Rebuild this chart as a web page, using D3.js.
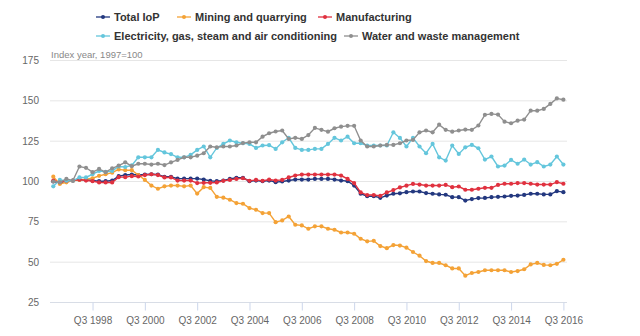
<!DOCTYPE html>
<html>
<head>
<meta charset="utf-8">
<script src="https://cdn.jsdelivr.net/npm/d3@7"></script>
<style>
  body { margin: 0; background: #fff; }
  svg { display: block; font-family: "Liberation Sans", Arial, sans-serif; }
</style>
</head>
<body>
<div id="chart"></div>
<script>
// quarters from Q1 1997 to Q3 2016
const quarters = d3.range(79).map(i => "Q" + (i % 4 + 1) + " " + (1997 + Math.floor(i / 4)))
const tickLabels = ["Q3 1998", "Q3 2000", "Q3 2002", "Q3 2004", "Q3 2006", "Q3 2008", "Q3 2010", "Q3 2012", "Q3 2014", "Q3 2016"]
const yTicks = [25, 50, 75, 100, 125, 150, 175]

const totalIoP = [100, 99.2, 100.2, 100.6, 101.1, 101.1, 100.6, 100.2, 100.2, 100.6,
  103.3, 104, 104.3, 104, 104.3, 104.5, 104.3, 102.9, 102.9, 101.8,
  101.8, 101.8, 101.8, 101.2, 100.4, 100.2, 100.6, 101.6, 102.3, 102.3,
  100.2, 100.6, 100.2, 100.6, 99.6, 100, 100.6, 101.2, 101.2, 101.2,
  101.6, 101.6, 101.6, 101.2, 100.6, 100.2, 97.5, 92.4, 90.9, 90.9,
  89.9, 91.3, 92.4, 92.7, 93.4, 93.8, 93.8, 92.8, 92.4, 92,
  91.8, 90.3, 90.3, 88.2, 89.1, 89.7, 89.8, 90.3, 90.5, 90.7,
  91.1, 91.3, 91.7, 92.4, 92.4, 92, 92, 94, 93.4]

const mining = [103, 98.5, 99.5, 100.5, 101, 101.5, 102, 103.5, 104.5, 105.5,
  107.5, 107, 107, 104, 101, 97.5, 95.5, 97, 97.5, 97.5,
  97, 97.5, 92.5, 96.5, 96, 90.5, 90, 88.7, 86.6, 86.2,
  83.5, 82.5, 80.4, 80.4, 74.8, 75.9, 78.3, 73.2, 72.8, 70.7,
  72.2, 72.2, 70.7, 70.1, 68.4, 68.4, 67.6, 64.5, 62.9, 63.2,
  60, 58.7, 60.6, 60.3, 59, 56.3, 54, 50.7, 49.5, 49.5,
  48.1, 46.1, 46.1, 41.6, 43.3, 43.9, 45, 45, 45, 45,
  43.9, 44.5, 45.6, 48.6, 49.5, 48.3, 48.1, 49, 51.5]

const manufacturing = [100.5, 99.6, 100.4, 100.6, 101.2, 100.6, 100.2, 99.4, 99.4, 99.4,
  102.7, 102.7, 103.3, 103.1, 104, 104.5, 104, 102.5, 102.5, 100.6,
  100.6, 100.6, 99, 99.2, 99.2, 99.4, 100.4, 101, 101.6, 102,
  100.4, 101, 100.4, 101.2, 100.6, 101, 102.5, 103.7, 104.3, 104.3,
  104.3, 104.3, 104.3, 104.3, 103.7, 101.6, 99, 93.2, 91.6, 91.6,
  91.1, 93.2, 94.7, 96.3, 97.4, 98.5, 98.1, 97.5, 97.5, 97.5,
  97.9, 96.5, 96.9, 94.9, 94.9, 95.5, 96.1, 96.1, 97.9, 98.6,
  98.6, 99, 99, 98.6, 98.1, 98.1, 98.1, 99.6, 98.6]

const electricity = [97, 101, 100.5, 100.5, 102.5, 102.5, 104.5, 106.5, 106, 106.5,
  109.3, 109, 110, 115, 115, 115, 119.6, 118, 117, 115,
  115, 116.5, 119.6, 121.7, 115, 120.8, 123.3, 125.4, 124.3, 123.7,
  123.3, 120.8, 122.3, 122.5, 120.2, 124.3, 127.1, 120.8, 119.6, 119.6,
  120.2, 120.2, 123.3, 127.1, 125.4, 127.8, 123.7, 123.7, 122.3, 122.3,
  122.3, 122.3, 130.5, 127, 121.7, 127, 121.7, 117.5, 123.3, 115,
  113, 122.3, 117.1, 121.2, 122.7, 120.6, 113.6, 115.5, 109.3, 109.9,
  113.4, 111, 113.6, 110.5, 112, 109.3, 110.5, 115.5, 110.5]

const water = [100, 99.5, 101.6, 100.6, 109.3, 108.5, 105.8, 107.8, 105.8, 108.2,
  109.9, 111.9, 109.5, 111, 111, 110.5, 111, 110.2, 111.9, 113.4,
  115, 115, 116, 117.5, 121.7, 121.2, 121.7, 121.7, 122.3, 123.8,
  124.3, 124.3, 127.8, 129.9, 131, 131.6, 126.4, 127.1, 126.4, 128.8,
  133.2, 132, 130.9, 133, 134, 134.5, 134.5, 125.4, 121.7, 121.7,
  122.3, 122.7, 122.7, 123.7, 125.4, 125.8, 130.5, 131.6, 130.5, 135.2,
  132, 130.9, 131.6, 132.2, 132, 134.7, 141.3, 141.9, 141.5, 137.1,
  136.1, 137.7, 138.4, 143.9, 143.9, 145, 148.1, 151.5, 150.7]

const seriesNames = ["Total IoP", "Mining and quarrying", "Manufacturing", "Electricity, gas, steam and air conditioning", "Water and waste management"]
const seriesColors = ["#23387f", "#f4a236", "#e0313f", "#64c6dc", "#8f8f8f"]
const seriesValues = [totalIoP, mining, manufacturing, electricity, water]

const width = 640
const height = 336

const svg = d3.select("#chart").append("svg")
  .attr("width", width)
  .attr("height", height)

const x = d3.scaleLinear().domain([0, quarters.length - 1]).range([53.3, 563.4])
const y = d3.scaleLinear().domain([25, 175]).range([302.5, 60.5])

// gridlines
svg.append("g").selectAll("line").data(yTicks).join("line")
  .attr("x1", 50).attr("x2", 567)
  .attr("y1", d => y(d)).attr("y2", d => y(d))
  .attr("stroke", d => d == 25 ? "#d8dde6" : "#e6e6e6")
  .attr("stroke-width", 1)

// y labels
svg.append("g").selectAll("text").data(yTicks).join("text")
  .attr("x", 39).attr("y", d => y(d) + 3.5)
  .attr("text-anchor", "end")
  .attr("font-size", 10)
  .attr("fill", "#666")
  .text(d => d)

svg.append("text")
  .attr("x", 51).attr("y", 58)
  .attr("font-size", 9.5)
  .attr("fill", "#888")
  .text("Index year, 1997=100")

// x axis
const tickIdx = tickLabels.map(l => quarters.indexOf(l))
const xAxis = d3.axisBottom(x).tickValues(tickIdx).tickFormat((d, i) => tickLabels[i]).tickSize(8).tickSizeOuter(0)
const gx = svg.append("g").attr("transform", "translate(0," + y(25) + ")").call(xAxis)
gx.select(".domain").remove()
gx.selectAll(".tick line").attr("stroke", "#ccd6eb")
gx.selectAll(".tick text").attr("font-size", 10).attr("fill", "#666").attr("dy", "1.05em")
  .attr("font-family", "Liberation Sans, Arial, sans-serif")

// lines
const line = d3.line().x((d, i) => x(i)).y(d => y(d))
seriesValues.forEach((vals, s) => {
  const g = svg.append("g")
  g.append("path").datum(vals)
    .attr("fill", "none")
    .attr("stroke", seriesColors[s])
    .attr("stroke-width", 1.4)
    .attr("d", line)
  g.selectAll("circle").data(vals).join("circle")
    .attr("cx", (d, i) => x(i))
    .attr("cy", d => y(d))
    .attr("r", 2.1)
    .attr("fill", seriesColors[s])
})

// legend
const legendPos = [[103, 21], [184, 21], [325, 21], [103, 40], [351, 40]]
const leg = svg.append("g").selectAll("g").data(seriesNames).join("g")
  .attr("transform", (d, i) => "translate(" + legendPos[i][0] + "," + legendPos[i][1] + ")")
leg.append("line").attr("x1", -7).attr("x2", 7).attr("y1", -4).attr("y2", -4)
  .attr("stroke", (d, i) => seriesColors[i]).attr("stroke-width", 1.3)
leg.append("circle").attr("cx", 0).attr("cy", -4).attr("r", 2)
  .attr("fill", (d, i) => seriesColors[i])
leg.append("text").attr("x", 11).attr("y", 0)
  .attr("font-size", 11).attr("font-weight", "bold").attr("fill", "#333")
  .text(d => d)
</script>
</body>
</html>
